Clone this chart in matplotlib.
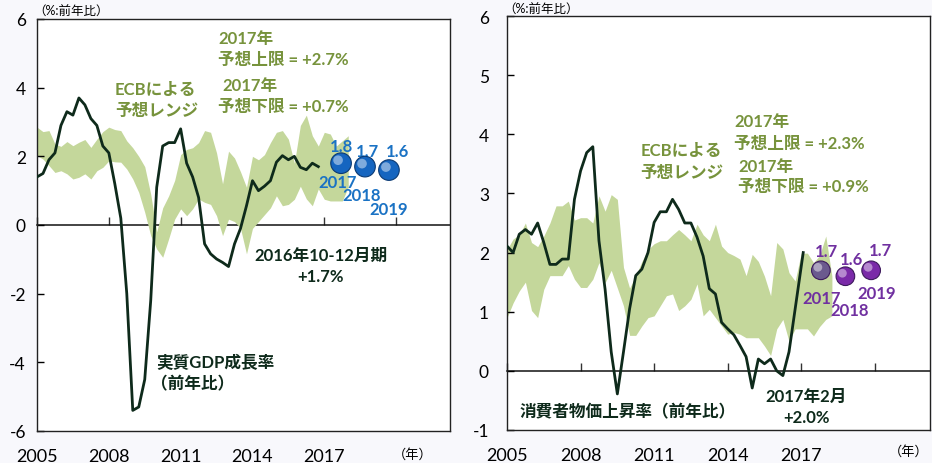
import numpy as np
import matplotlib
matplotlib.use('Agg')
import matplotlib.pyplot as plt
from matplotlib.transforms import offset_copy

plt.rcParams['font.family'] = ['Lato', 'Noto Sans CJK JP', 'DejaVu Sans']

# ---------------- data ----------------
# Left: euro area real GDP growth (y/y, %), quarterly 2005Q1 - 2016Q4
gdp_start = 2005.0
gdp = [1.4, 1.5, 1.9, 2.1, 2.9, 3.3, 3.2, 3.7, 3.5, 3.1, 2.9, 2.3,
       2.1, 1.2, 0.2, -2.0, -5.4, -5.3, -4.5, -2.2, 1.1, 2.3, 2.4, 2.4,
       2.8, 1.8, 1.4, 0.8, -0.55, -0.84, -0.99, -1.09, -1.21, -0.55, -0.1, 0.56,
       1.29, 1.0, 1.13, 1.29, 1.83, 2.02, 1.9, 2.0, 1.68, 1.61, 1.8, 1.7]

# ECB projection range for GDP (quarterly 2005Q1 - 2018Q1)
gdp_band_upper = [2.85, 2.72, 2.75, 2.36, 2.29, 2.43, 2.31, 2.41, 2.49, 2.26, 2.50, 2.72,
                  2.85, 2.78, 2.75, 2.45, 2.25, 2.00, 1.70, 0.90, -0.20, 0.50, 0.85, 1.30,
                  2.05, 2.20, 2.25, 2.40, 2.75, 2.70, 2.10, 1.20, 2.15, 1.95, 1.55, 1.10,
                  2.00, 1.90, 2.05, 2.40, 2.70, 2.75, 2.50, 1.80, 2.90, 3.20, 2.60, 2.30,
                  2.70, 2.65, 2.30, 2.45, 2.60]
gdp_band_lower = [2.02, 1.92, 1.73, 1.53, 1.58, 1.49, 1.34, 1.39, 1.49, 1.34, 1.58, 1.68,
                  1.87, 1.84, 1.83, 1.63, 1.34, 0.95, 0.37, -0.31, -0.70, -0.94, -0.40, 0.17,
                  0.47, 0.27, 0.47, 0.76, 0.66, 0.60, 0.27, -0.31, 0.17, 0.10, -0.10, -0.84,
                  -0.10, 0.10, 0.30, 0.50, 0.85, 0.56, 0.60, 0.75, 1.13, 0.76, 0.56, 1.05,
                  0.75, 0.70, 0.70, 0.70, 1.10]

gdp_fc_years = ['2017', '2018', '2019']
gdp_fc_x = [2017.7, 2018.7, 2019.7]
gdp_fc = [1.8, 1.7, 1.6]

# Right: euro area HICP inflation (y/y, %), quarterly 2005Q1 - 2016Q3, then Feb 2017
cpi_x_q_start = 2005.0
cpi_q = [2.11, 2.0, 2.31, 2.39, 2.31, 2.5, 2.17, 1.8, 1.8, 1.89, 1.89, 2.9,
         3.38, 3.69, 3.79, 2.2, 1.38, 0.32, -0.39, 0.32, 1.05, 1.61, 1.72, 2.0,
         2.51, 2.69, 2.69, 2.9, 2.73, 2.5, 2.5, 2.26, 1.94, 1.39, 1.3, 0.82,
         0.71, 0.61, 0.43, 0.24, -0.29, 0.2, 0.12, 0.2, 0.0, -0.08, 0.32]
cpi_last_x = 2017.08   # Feb 2017
cpi_last = 2.0

cpi_band_upper = [2.05, 2.23, 2.30, 2.50, 2.17, 2.10, 2.28, 2.50, 2.79, 2.79, 2.87, 2.55,
                  2.59, 2.59, 2.50, 2.96, 2.70, 2.98, 2.90, 1.75, 1.40, 1.60, 1.85, 2.05,
                  2.15, 2.20, 2.20, 2.30, 2.39, 2.30, 2.20, 2.48, 2.30, 2.20, 2.48, 2.11,
                  2.00, 1.95, 1.89, 1.61, 1.97, 1.85, 1.60, 1.27, 2.17, 2.06, 1.66, 1.52,
                  1.99, 1.99, 1.83, 1.95, 2.28, 1.60]
cpi_band_lower = [0.90, 1.15, 1.35, 1.50, 1.02, 0.90, 1.38, 1.61, 1.61, 1.61, 1.78, 1.55,
                  1.41, 1.41, 1.55, 1.83, 1.49, 1.70, 1.40, 1.10, 0.60, 0.60, 0.76, 0.90,
                  0.93, 1.10, 1.27, 1.30, 1.02, 1.10, 1.21, 1.47, 0.93, 1.04, 0.90, 0.76,
                  0.62, 0.65, 0.62, 0.56, 0.56, 0.56, 0.42, 0.26, 0.71, 0.87, 0.50, 0.71,
                  0.71, 0.71, 0.59, 0.75, 0.87, 0.93]

cpi_fc_years = ['2017', '2018', '2019']
cpi_fc_x = [2017.8, 2018.8, 2019.85]
cpi_fc = [1.7, 1.6, 1.7]

label_years = [2005, 2008, 2011, 2014, 2017]
zero_ticks = [2005, 2008, 2011, 2014, 2017, 2020]

# ---------------- style ----------------
GREEN_TXT = '#77933c'
BAND = '#c4d79b'
LINE = '#0e2a1b'
BLUE_TXT = '#1a72c4'
PURPLE_TXT = '#7030a0'

W, H = 932, 464
fig = plt.figure(figsize=(W / 100, H / 100), dpi=100, facecolor='#f8f8fc')


def px_axes(l, t, r, b):
    return fig.add_axes([l / W, 1 - b / H, (r - l) / W, (b - t) / H])


axL = px_axes(37, 20, 450, 432)
axR = px_axes(507, 17, 930, 431)


def quarters(start, n):
    return start + 0.25 * np.arange(n)


def style_axes(ax, ylim, yticks, ypad):
    ax.set_facecolor('white')
    ax.set_xlim(2005, 2022.25)
    ax.set_ylim(*ylim)
    ax.set_yticks(yticks)
    ax.set_yticklabels([str(v) for v in yticks])
    ax.set_xticks(label_years)
    ax.set_xticklabels([str(v) for v in label_years])
    ax.tick_params(axis='x', length=0, pad=12, labelsize=13)
    ax.tick_params(axis='y', direction='in', length=5, width=1, pad=ypad, labelsize=12.5)
    for s in ax.spines.values():
        s.set_linewidth(1.0)
        s.set_color('#222222')
    pos = (0 - ylim[0]) / (ylim[1] - ylim[0])
    sec = ax.secondary_xaxis(pos)
    sec.set_xticks(zero_ticks)
    sec.xaxis.set_ticks_position('top')
    sec.tick_params(axis='x', direction='out', length=6, width=1, color='#333333',
                    labeltop=False, labelbottom=False)
    for s in sec.spines.values():
        s.set_linewidth(1.1)
        s.set_color('#111111')


def spheres(ax, xs, ys, colors, edge, size):
    ax.scatter(xs, ys, s=size, c=colors, edgecolors=edge, linewidths=0.8, zorder=5)
    tr = offset_copy(ax.transData, fig=fig, x=-3, y=3, units='dots')
    ax.scatter(xs, ys, s=size * 0.22, color='white', alpha=0.45, edgecolors='none',
               transform=tr, zorder=6)


# ---------------- left panel ----------------
style_axes(axL, (-6, 6), list(range(-6, 7, 2)), 8)
bxL = quarters(2005.0, len(gdp_band_upper))
axL.fill_between(bxL, gdp_band_lower, gdp_band_upper, color=BAND, lw=0, zorder=1)
axL.plot(quarters(gdp_start, len(gdp)), gdp, color=LINE, lw=2.0, zorder=3)
spheres(axL, gdp_fc_x, gdp_fc, ['#1565c0'] * 3, '#0b3a73', 220)

tk = dict(fontsize=12, fontweight='bold')
axL.text(2017.71, 2.30, f'{gdp_fc[0]}', color=BLUE_TXT, ha='center', va='center', **tk)
axL.text(2018.79, 2.16, f'{gdp_fc[1]}', color=BLUE_TXT, ha='center', va='center', **tk)
axL.text(2020.04, 2.16, f'{gdp_fc[2]}', color=BLUE_TXT, ha='center', va='center', **tk)
axL.text(2017.54, 1.25, gdp_fc_years[0], color=BLUE_TXT, ha='center', va='center', **tk)
axL.text(2018.54, 0.87, gdp_fc_years[1], color=BLUE_TXT, ha='center', va='center', **tk)
axL.text(2019.71, 0.47, gdp_fc_years[2], color=BLUE_TXT, ha='center', va='center', **tk)

axL.text(2012.58, 5.45, '2017年', color=GREEN_TXT, ha='left', va='center', **tk)
axL.text(2012.54, 4.84, '予想上限 = +2.7%', color=GREEN_TXT, ha='left', va='center', **tk)
axL.text(2012.75, 4.08, '2017年', color=GREEN_TXT, ha='left', va='center', **tk)
axL.text(2012.58, 3.47, '予想下限 = +0.7%', color=GREEN_TXT, ha='left', va='center', **tk)
axL.text(2008.25, 3.96, 'ECBによる', color=GREEN_TXT, ha='left', va='center', **tk)
axL.text(2008.25, 3.35, '予想レンジ', color=GREEN_TXT, ha='left', va='center', **tk)
axL.text(2016.86, -0.87, '2016年10-12月期', color=LINE, ha='center', va='center', **tk)
axL.text(2016.86, -1.50, '+1.7%', color=LINE, ha='center', va='center', **tk)
axL.text(2010.0, -3.98, '実質GDP成長率', color=LINE, ha='left', va='center', **tk)
axL.text(2009.75, -4.60, '（前年比）', color=LINE, ha='left', va='center', **tk)

# ---------------- right panel ----------------
style_axes(axR, (-1, 6), list(range(-1, 7)), 13)
bxR = quarters(2005.0, len(cpi_band_upper))
axR.fill_between(bxR, cpi_band_lower, cpi_band_upper, color=BAND, lw=0, zorder=1)
cpi_x = list(quarters(cpi_x_q_start, len(cpi_q))) + [cpi_last_x]
axR.plot(cpi_x, cpi_q + [cpi_last], color=LINE, lw=2.0, zorder=3)
spheres(axR, cpi_fc_x, cpi_fc, ['#6b5a8e', '#7a2aa8', '#7a2aa8'], '#3d1a5c', 180)

axR.text(2018.03, 2.03, f'{cpi_fc[0]}', color=PURPLE_TXT, ha='center', va='center', **tk)
axR.text(2019.06, 1.89, f'{cpi_fc[1]}', color=PURPLE_TXT, ha='center', va='center', **tk)
axR.text(2020.22, 2.05, f'{cpi_fc[2]}', color=PURPLE_TXT, ha='center', va='center', **tk)
axR.text(2017.83, 1.24, cpi_fc_years[0], color=PURPLE_TXT, ha='center', va='center', **tk)
axR.text(2018.99, 1.03, cpi_fc_years[1], color=PURPLE_TXT, ha='center', va='center', **tk)
axR.text(2020.08, 1.31, cpi_fc_years[2], color=PURPLE_TXT, ha='center', va='center', **tk)

axR.text(2014.26, 4.23, '2017年', color=GREEN_TXT, ha='left', va='center', **tk)
axR.text(2014.26, 3.86, '予想上限 = +2.3%', color=GREEN_TXT, ha='left', va='center', **tk)
axR.text(2014.43, 3.47, '2017年', color=GREEN_TXT, ha='left', va='center', **tk)
axR.text(2014.43, 3.12, '予想下限 = +0.9%', color=GREEN_TXT, ha='left', va='center', **tk)
axR.text(2010.45, 3.74, 'ECBによる', color=GREEN_TXT, ha='left', va='center', **tk)
axR.text(2010.45, 3.36, '予想レンジ', color=GREEN_TXT, ha='left', va='center', **tk)
axR.text(2005.53, -0.69, '消費者物価上昇率（前年比）', color=LINE, ha='left', va='center', **tk)
axR.text(2017.2, -0.42, '2017年2月', color=LINE, ha='center', va='center', **tk)
axR.text(2017.2, -0.78, '+2.0%', color=LINE, ha='center', va='center', **tk)

# ---------------- unit labels ----------------
fig.text(33 / W, 1 - 12 / H, '（%:前年比）', fontsize=9, ha='left', va='center')
fig.text(503 / W, 1 - 10 / H, '（%:前年比）', fontsize=9, ha='left', va='center')
fig.text(413 / W, 1 - 454 / H, '（年）', fontsize=9.5, ha='center', va='center')
fig.text(929 / W, 1 - 451 / H, '（年）', fontsize=9.5, ha='right', va='center')

fig.savefig('out.png', dpi=100, facecolor=fig.get_facecolor())
